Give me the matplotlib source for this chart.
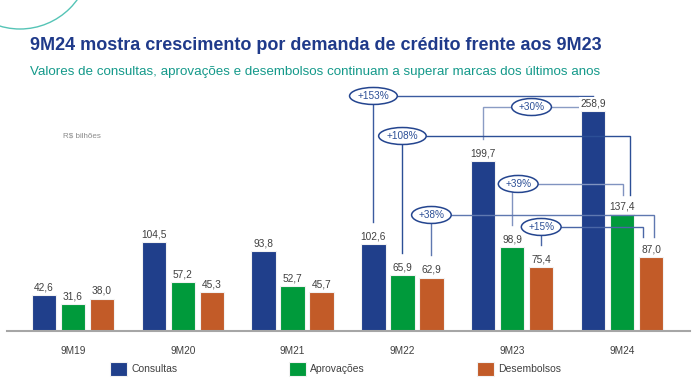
import numpy as np
import matplotlib.pyplot as plt
from matplotlib.patches import Arc

plt.rcParams['font.family'] = ['Liberation Sans', 'DejaVu Sans']

# data
periods = ['9M19', '9M20', '9M21', '9M22', '9M23', '9M24']
series_names = ['Consultas', 'Aprovações', 'Desembolsos']
consultas = [42.6, 104.5, 93.8, 102.6, 199.7, 258.9]
aprovacoes = [31.6, 57.2, 52.7, 65.9, 98.9, 137.4]
desembolsos = [38.0, 45.3, 45.7, 62.9, 75.4, 87.0]
values = [consultas, aprovacoes, desembolsos]

# growth comparisons: (series index, from period, to period, label)
comparisons = [
    (0, 3, 5, '+153%'),
    (0, 4, 5, '+30%'),
    (1, 3, 5, '+108%'),
    (1, 4, 5, '+39%'),
    (2, 3, 5, '+38%'),
    (2, 4, 5, '+15%'),
]
# connector styling: level (data y), right x shift, ellipse position fraction, colour
conn_style = [
    (276.5, 0.0, 0.0, '#3b5b9f'),
    (263.5, 0.0, 0.44, '#8a9cc4'),
    (229.4, 0.073, 0.0, '#2c4f96'),
    (173.0, 0.01, 0.054, '#8093c0'),
    (136.5, 0.027, 0.0, '#5f78b0'),
    (122.4, -0.073, 0.0, '#4a66a6'),
]

colors = ['#203f8b', '#009a3b', '#c25b28']
navy = '#1f3a8a'
label_gray = '#404040'

fig = plt.figure(figsize=(7, 3.92), dpi=100)
ax = fig.add_axes([7 / 700, 61 / 392, 683 / 700, 331 / 392])

x = np.arange(len(periods))
offset = 0.264
width = 0.221
bars = []
for k, (name, vals, c) in enumerate(zip(series_names, values, colors)):
    pos = x + (k - 1) * offset
    b = ax.bar(pos, vals, width, color=c, edgecolor='#f2f2f2', linewidth=0.8,
               label=name, zorder=3)
    bars.append(b)
    for xi, v in zip(pos, vals):
        ax.annotate(f'{v:.1f}'.replace('.', ','), (xi, v), xytext=(0, 2),
                    textcoords='offset points', ha='center', va='bottom',
                    fontsize=7.3, color=label_gray, zorder=6,
                    bbox=dict(boxstyle='square,pad=0.1', fc='white', ec='none'))

# connectors
for (s, i0, i1, lab), (level, dx, frac, lc) in zip(comparisons, conn_style):
    x0 = x[i0] + (s - 1) * offset
    x1 = x[i1] + (s - 1) * offset + dx
    y0 = values[s][i0] + 26
    y1 = min(level, values[s][i1] + 23)
    ax.plot([x0, x0, x1, x1], [y0, level, level, y1], color=lc, lw=1.0,
            zorder=4, clip_on=False, solid_joinstyle='miter')
    ex = x0 + frac * (x1 - x0)
    ax.text(ex, level, lab, ha='center', va='center', fontsize=7.2, color='#2c4f96',
            zorder=7, bbox=dict(boxstyle='ellipse,pad=0.1', fc='white', ec='#24458f', lw=1.1))

ax.set_xlim(-0.601, 5.619)
ax.set_ylim(0, 389.4)
ax.set_xticks(x)
ax.set_xticklabels(periods, fontsize=7.3, color=label_gray)
ax.tick_params(axis='x', length=0, pad=11)
ax.set_yticks([])
for side in ['top', 'right', 'left']:
    ax.spines[side].set_visible(False)
ax.spines['bottom'].set_color('#a6a6a6')
ax.spines['bottom'].set_linewidth(1.5)
ax.spines['bottom'].set_zorder(5)

fig.legend(handles=bars, labels=series_names, loc='center left',
           bbox_to_anchor=(110 / 700, 1 - 369 / 392), ncol=3, frameon=False,
           fontsize=7.5, handlelength=1.65, handleheight=1.6, handletextpad=0.4,
           columnspacing=10.7, labelcolor=label_gray, borderaxespad=0, borderpad=0)

fig.text(30 / 700, 1 - 45 / 392, '9M24 mostra crescimento por demanda de crédito frente aos 9M23',
         fontsize=12.95, fontweight='bold', color=navy, va='center', ha='left')
fig.text(30 / 700, 1 - 72 / 392,
         'Valores de consultas, aprovações e desembolsos continuam a superar marcas dos últimos anos',
         fontsize=9.6, color='#14998a', va='center', ha='left')
fig.text(63 / 700, 1 - 136 / 392, r'R\$ bilhões', fontsize=5.8, color='#8a8a8a',
         va='center', ha='left')

# decorative arc top-left
R = 70.5
fig.add_artist(Arc((20 / 700, 1 + 41.5 / 392), 2 * R / 700, 2 * R / 392,
                   theta1=180, theta2=360, transform=fig.transFigure,
                   color='#55c4b6', lw=1.0))

fig.savefig('out.png', dpi=100)
